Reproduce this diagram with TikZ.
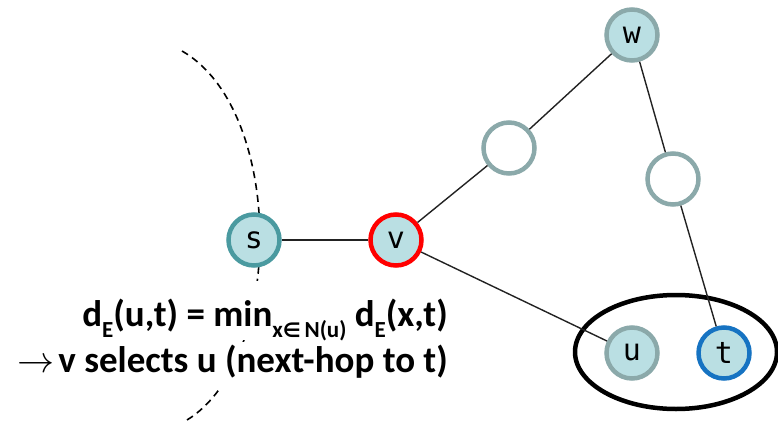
\documentclass[tikz,border=0pt]{standalone}
\usepackage{fix-cm}
\usepackage{fontspec}
\usetikzlibrary{shapes.geometric}
\setmainfont{Carlito}
\newfontfamily\monofont{DejaVu Sans Mono}
\newfontfamily\dvs{DejaVu Sans}
\newcommand\sbx[1]{\raisebox{-11pt}{\fontsize{23}{23}\selectfont #1}}
\definecolor{nodefill}{HTML}{BADFE3}
\definecolor{sborder}{HTML}{4A9AA0}
\definecolor{gborder}{HTML}{8BA9AA}
\definecolor{tborder}{HTML}{1673C2}
\definecolor{vborder}{HTML}{FF0000}
\definecolor{edgecol}{HTML}{222222}
\tikzset{
  vtx/.style={circle, minimum size=51pt, inner sep=0pt, line width=4.5pt, fill=nodefill,
    font=\monofont\fontsize{30}{30}\selectfont},
  emptyvtx/.style={vtx, fill=white, draw=gborder},
  link/.style={draw=edgecol, line width=1.4pt},
  eqtext/.style={font=\bfseries\fontsize{37}{44}\selectfont, fill=white, inner xsep=2pt, inner ysep=0pt, anchor=base east},
}
\begin{document}
\begin{tikzpicture}[x=1pt,y=-1pt]
\useasboundingbox (0,0) rectangle (778,422);
% dashed boundary curve
\draw[black, line width=1.6pt, dash pattern=on 7pt off 5pt] (182,51) .. controls (285,110) and (285,360) .. (187,420);
% text
\node[eqtext, text height=45pt, text depth=14pt] (eq1) at (450,326)
  {d\sbx{E}(u,t) = min\sbx{x{\dvs\fontsize{20}{20}\selectfont ∈}\,N(u)} d\sbx{E}(x,t)};
\node[eqtext, text height=30pt, text depth=16pt] (eq2) at (450,372)
  {$\rightarrow$\hspace{0.1em}v selects u (next-hop to t)};
% ellipse
\node[draw=black, line width=4.5pt, ellipse, minimum width=202pt, minimum height=114pt, inner sep=0pt] (grp) at (676,352) {};
% vertices
\node[vtx, draw=sborder] (s) at (254,240) {s};
\node[vtx, draw=vborder] (v) at (396,240) {v};
\node[emptyvtx] (e1) at (509,148) {};
\node[emptyvtx] (e2) at (673,179) {};
\node[vtx, draw=gborder] (w) at (632,35) {w};
\node[vtx, draw=gborder] (u) at (632,353) {u};
\node[vtx, draw=tborder] (t) at (724,353) {t};
% edges
\draw[link] (s) -- (v);
\draw[link] (v) -- (e1);
\draw[link] (e1) -- (w);
\draw[link] (w) -- (e2);
\draw[link] (e2) -- (t);
\draw[link] (v) -- (u);
\end{tikzpicture}
\end{document}
